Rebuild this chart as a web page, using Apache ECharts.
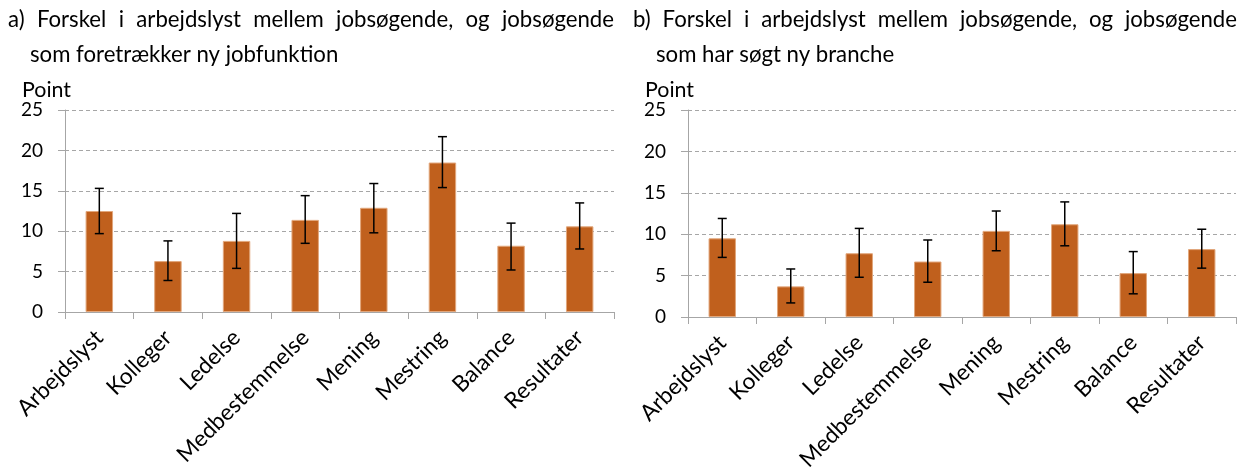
<!DOCTYPE html>
<html>
<head>
<meta charset="utf-8">
<script src="https://cdn.jsdelivr.net/npm/echarts@6/dist/echarts.min.js"></script>
<style>
html, body { margin: 0; padding: 0; background: #fff; }
#chart { width: 1246px; height: 469px; }
</style>
</head>
<body>
<div id="chart"></div>
<script>
var categories = ['Arbejdslyst', 'Kolleger', 'Ledelse', 'Medbestemmelse', 'Mening', 'Mestring', 'Balance', 'Resultater'];

// a) foretrækker ny jobfunktion
var valuesA = [12.5, 6.3, 8.8, 11.4, 12.9, 18.5, 8.2, 10.6];
var lowA = [9.7, 3.9, 5.4, 8.5, 9.8, 15.4, 5.2, 7.8];
var highA = [15.3, 8.8, 12.2, 14.4, 15.9, 21.7, 11.0, 13.5];

// b) har søgt ny branche
var valuesB = [9.5, 3.7, 7.7, 6.7, 10.4, 11.2, 5.3, 8.2];
var lowB = [7.2, 1.7, 4.8, 4.2, 8.0, 8.6, 2.8, 5.9];
var highB = [11.9, 5.8, 10.7, 9.3, 12.8, 13.9, 7.9, 10.6];

var titleA = ['a) Forskel i arbejdslyst mellem jobsøgende, og jobsøgende', 'som foretrækker ny jobfunktion'];
var titleB = ['b) Forskel i arbejdslyst mellem jobsøgende, og jobsøgende', 'som har søgt ny branche'];
var yName = 'Point';

var FONT = 'Lato, "Noto Sans", sans-serif';
var barColor = '#C0601D';
var gridColor = '#A6A6A6';

// Calibri findes ikke, så skriftstørrelsen tilpasses bredden i originalen
var measureCtx = document.createElement('canvas').getContext('2d');
function textWidth(text, size) {
    measureCtx.font = size + 'px ' + FONT;
    return measureCtx.measureText(text).width;
}
function fitSize(text, width) {
    return Math.round(width / textWidth(text, 100) * 1000) / 10;
}
var titleSize = fitSize(titleA[1], 308);
var labelSize = fitSize('Medbestemmelse', 176);
var nameSize = fitSize(yName, 49);
var tickSize = fitSize('25', 22);

// første titellinje er lige margener (justeret), som i Word
function justifiedLine(text, x0, x1, y, size) {
    var words = text.split(' ');
    var widths = words.map(function(w) { return textWidth(w, size); });
    var total = widths.reduce(function(a, b) { return a + b; }, 0);
    var gap = (x1 - x0 - total) / (words.length - 1);
    var x = x0;
    return words.map(function(w, i) {
        var el = {
            type: 'text', left: x, top: y,
            style: { text: w, font: size + 'px ' + FONT, fill: '#000' }
        };
        x += widths[i] + gap;
        return el;
    });
}

function plainLine(text, x, y, size) {
    return { type: 'text', left: x, top: y, style: { text: text, font: size + 'px ' + FONT, fill: '#000' } };
}

var graphics = []
    .concat(justifiedLine(titleA[0], 8, 614, 9, titleSize))
    .concat([plainLine(titleA[1], 30, 44, titleSize)])
    .concat(justifiedLine(titleB[0], 633, 1237, 9, titleSize))
    .concat([plainLine(titleB[1], 656, 44, titleSize)]);

function errorRender(params, api) {
    var x = api.value(0);
    var lo = api.coord([x, api.value(1)]);
    var hi = api.coord([x, api.value(2)]);
    var cap = 4.5;
    var st = { stroke: '#000', lineWidth: 1.5 };
    return {
        type: 'group',
        children: [
            { type: 'line', shape: { x1: lo[0], y1: lo[1], x2: hi[0], y2: hi[1] }, style: st },
            { type: 'line', shape: { x1: lo[0] - cap, y1: lo[1], x2: lo[0] + cap, y2: lo[1] }, style: st },
            { type: 'line', shape: { x1: hi[0] - cap, y1: hi[1], x2: hi[0] + cap, y2: hi[1] }, style: st }
        ]
    };
}

function errData(lo, hi) {
    return lo.map(function(v, i) { return [i, v, hi[i]]; });
}

function xAxis(idx) {
    return {
        type: 'category', gridIndex: idx, data: categories,
        axisLine: { lineStyle: { color: gridColor, width: 1 } },
        axisTick: { show: true, length: 7, lineStyle: { color: gridColor } },
        axisLabel: { rotate: 45, color: '#000', fontSize: labelSize, fontFamily: FONT, margin: 22, interval: 0 }
    };
}

function yAxis(idx) {
    return {
        type: 'value', gridIndex: idx, min: 0, max: 25, interval: 5,
        name: yName, nameLocation: 'end', nameGap: 8,
        nameTextStyle: { color: '#000', fontSize: nameSize, fontFamily: FONT, align: 'left', padding: [0, 0, 0, -43] },
        axisLine: { show: true, lineStyle: { color: gridColor, width: 1 } },
        axisTick: { show: true, length: 7, lineStyle: { color: gridColor } },
        axisLabel: { color: '#000', fontSize: tickSize, fontFamily: FONT, margin: 22 },
        splitLine: { lineStyle: { color: gridColor, type: [4, 3], width: 1 } }
    };
}

var chart = echarts.init(document.getElementById('chart'));
chart.setOption({
    animation: false,
    graphic: graphics,
    grid: [
        { left: 65, right: 632, top: 110, bottom: 157, outerBoundsMode: 'none', containLabel: false },
        { left: 688, right: 10, top: 110, bottom: 152, outerBoundsMode: 'none', containLabel: false }
    ],
    xAxis: [xAxis(0), xAxis(1)],
    yAxis: [yAxis(0), yAxis(1)],
    series: [
        {
            type: 'bar', xAxisIndex: 0, yAxisIndex: 0, data: valuesA, barWidth: '40%',
            itemStyle: { color: barColor, borderColor: '#E2A77C', borderWidth: 1 }
        },
        { type: 'custom', xAxisIndex: 0, yAxisIndex: 0, data: errData(lowA, highA), renderItem: errorRender, z: 5 },
        {
            type: 'bar', xAxisIndex: 1, yAxisIndex: 1, data: valuesB, barWidth: '40%',
            itemStyle: { color: barColor, borderColor: '#E2A77C', borderWidth: 1 }
        },
        { type: 'custom', xAxisIndex: 1, yAxisIndex: 1, data: errData(lowB, highB), renderItem: errorRender, z: 5 }
    ]
});
window.addEventListener('resize', function() { chart.resize(); });
</script>
</body>
</html>
